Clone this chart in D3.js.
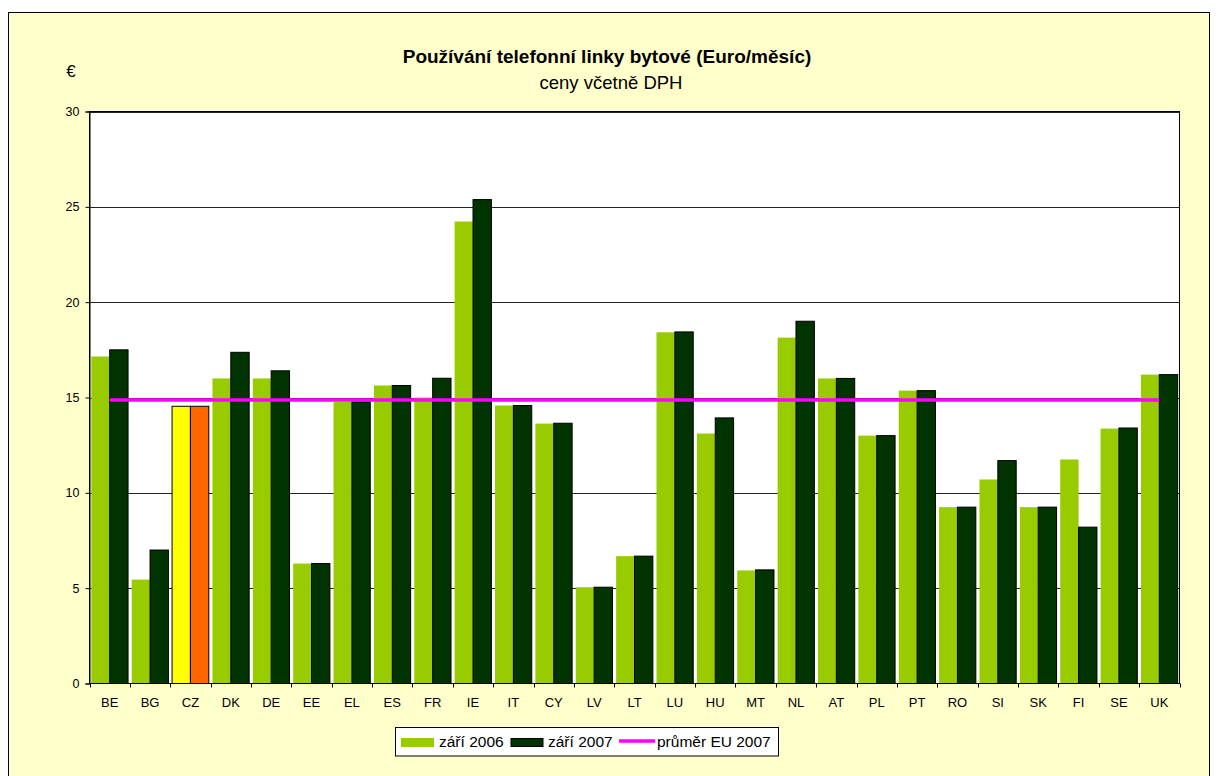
<!DOCTYPE html>
<html>
<head>
<meta charset="utf-8">
<script src="https://cdn.jsdelivr.net/npm/d3@7"></script>
<style>
body { margin: 0; background: #fff; }
text { font-family: "Liberation Sans", Arial, sans-serif; fill: #000; }
</style>
</head>
<body>
<svg id="chart"></svg>
<script>
var width = 1218;
var height = 776;

// data
var countries = ["BE","BG","CZ","DK","DE","EE","EL","ES","FR","IE","IT","CY","LV","LT","LU","HU","MT","NL","AT","PL","PT","RO","SI","SK","FI","SE","UK"];
var sep2006 = [17.15,5.45,14.54,16.0,16.0,6.29,14.77,15.63,15.0,24.23,14.58,13.63,5.05,6.68,18.42,13.11,5.93,18.14,16.0,13.0,15.36,9.25,10.7,9.25,11.75,13.37,16.2];
var sep2007 = [17.5,7.0,14.54,17.37,16.4,6.29,14.77,15.63,16.01,25.38,14.58,13.65,5.05,6.68,18.44,13.93,5.96,19.0,16.0,13.0,15.36,9.25,11.69,9.25,8.2,13.4,16.2];
var euAvg2007 = 14.87;
var yTicks = [0,5,10,15,20,25,30];
var seriesNames = ["září 2006","září 2007","průměr EU 2007"];
var highlight = "CZ";

var plot = {left: 89.5, top: 111.5, right: 1179.5, bottom: 683.5};

var svg = d3.select("#chart")
    .attr("width", width)
    .attr("height", height)
    .style("display", "block");

// chart frame (bottom edge runs past the picture)
svg.append("rect")
    .attr("x", 8.5).attr("y", 12.5)
    .attr("width", 1201).attr("height", 780)
    .attr("fill", "#FFFFCC")
    .attr("stroke", "#000");

var x = d3.scaleBand()
    .domain(countries)
    .range([plot.left, plot.right])
    .paddingInner(0.09)
    .paddingOuter(0.045);

var xCat = d3.scaleBand()
    .domain(countries)
    .range([plot.left, plot.right]);

var y = d3.scaleLinear()
    .domain([0, 30])
    .range([plot.bottom, plot.top]);

// plot area
svg.append("rect")
    .attr("x", plot.left).attr("y", plot.top)
    .attr("width", plot.right - plot.left).attr("height", plot.bottom - plot.top)
    .attr("fill", "#fff");

// gridlines
svg.append("g").selectAll("line")
    .data(yTicks.slice(1))
  .enter().append("line")
    .attr("x1", plot.left).attr("x2", plot.right)
    .attr("y1", function(d) { return Math.round(y(d)) + 0.5; })
    .attr("y2", function(d) { return Math.round(y(d)) + 0.5; })
    .attr("stroke", "#222");

var rows = countries.map(function(c, i) {
    return {c: c, v06: sep2006[i], v07: sep2007[i]};
});

var bw = x.bandwidth() / 2;

var bar = svg.append("g").selectAll("g")
    .data(rows)
  .enter().append("g")
    .attr("transform", function(d) { return "translate(" + x(d.c) + ",0)"; });

// září 2006
bar.append("rect")
    .attr("x", 0)
    .attr("width", bw)
    .attr("y", function(d) { return y(d.v06); })
    .attr("height", function(d) { return y(0) - y(d.v06); })
    .attr("fill", function(d) { return d.c == highlight ? "#FFFF00" : "#99CC00"; })
    .attr("stroke", function(d) { return d.c == highlight ? "#000" : "none"; });

// září 2007
bar.append("rect")
    .attr("x", bw)
    .attr("width", bw)
    .attr("y", function(d) { return y(d.v07); })
    .attr("height", function(d) { return y(0) - y(d.v07); })
    .attr("fill", function(d) { return d.c == highlight ? "#FF6600" : "#003300"; })
    .attr("stroke", "#000");

// EU average line
svg.append("line")
    .attr("x1", xCat(countries[0]) + xCat.bandwidth() / 2)
    .attr("x2", xCat(countries[countries.length - 1]) + xCat.bandwidth() / 2)
    .attr("y1", y(euAvg2007)).attr("y2", y(euAvg2007))
    .attr("stroke", "#FF00FF")
    .attr("stroke-width", 3.5);

// plot border
svg.append("rect")
    .attr("x", plot.left).attr("y", plot.top)
    .attr("width", plot.right - plot.left).attr("height", plot.bottom - plot.top)
    .attr("fill", "none")
    .attr("stroke", "#000");

// y axis
var yAxis = svg.append("g")
    .attr("transform", "translate(" + plot.left + ",0)")
    .call(d3.axisLeft(y).tickValues(yTicks).tickSize(4).tickPadding(6));
yAxis.select(".domain").attr("stroke", "#000");
yAxis.selectAll("text").attr("font-size", 12.5).attr("font-family", "Liberation Sans, Arial, sans-serif");

// x axis: ticks at category boundaries
var xAxis = svg.append("g")
    .attr("transform", "translate(0," + plot.bottom + ")");
xAxis.append("line")
    .attr("x1", plot.left).attr("x2", plot.right)
    .attr("stroke", "#000");
xAxis.selectAll(".tick")
    .data(countries.concat([null]))
  .enter().append("line")
    .attr("x1", function(d, i) { return Math.round(plot.left + i * xCat.step()) + 0.5; })
    .attr("x2", function(d, i) { return Math.round(plot.left + i * xCat.step()) + 0.5; })
    .attr("y1", 0).attr("y2", 4)
    .attr("stroke", "#000");
xAxis.selectAll("text")
    .data(countries)
  .enter().append("text")
    .attr("x", function(d) { return xCat(d) + xCat.bandwidth() / 2; })
    .attr("y", 23)
    .attr("text-anchor", "middle")
    .attr("font-size", 13)
    .text(function(d) { return d; });

// titles
svg.append("text")
    .attr("x", 607).attr("y", 63)
    .attr("text-anchor", "middle")
    .attr("font-size", 19)
    .attr("font-weight", "bold")
    .text("Používání telefonní linky bytové (Euro/měsíc)");

svg.append("text")
    .attr("x", 611).attr("y", 89)
    .attr("text-anchor", "middle")
    .attr("font-size", 18.5)
    .text("ceny včetně DPH");

svg.append("text")
    .attr("x", 71).attr("y", 77)
    .attr("text-anchor", "middle")
    .attr("font-size", 17)
    .text("€");

// legend
var legend = svg.append("g");
legend.append("rect")
    .attr("x", 395.5).attr("y", 727.5)
    .attr("width", 383).attr("height", 28.5)
    .attr("fill", "#fff")
    .attr("stroke", "#000");

legend.append("rect")
    .attr("x", 401).attr("y", 738).attr("width", 33).attr("height", 9)
    .attr("fill", "#99CC00");
legend.append("text")
    .attr("x", 439).attr("y", 747).attr("font-size", 15.5)
    .text(seriesNames[0]);

legend.append("rect")
    .attr("x", 511).attr("y", 738.5).attr("width", 32).attr("height", 8)
    .attr("fill", "#003300").attr("stroke", "#000");
legend.append("text")
    .attr("x", 548).attr("y", 747).attr("font-size", 15.5)
    .text(seriesNames[1]);

legend.append("line")
    .attr("x1", 619).attr("x2", 655)
    .attr("y1", 741).attr("y2", 741)
    .attr("stroke", "#FF00FF").attr("stroke-width", 3.5);
legend.append("text")
    .attr("x", 657).attr("y", 747).attr("font-size", 15.5)
    .text(seriesNames[2]);
</script>
</body>
</html>
